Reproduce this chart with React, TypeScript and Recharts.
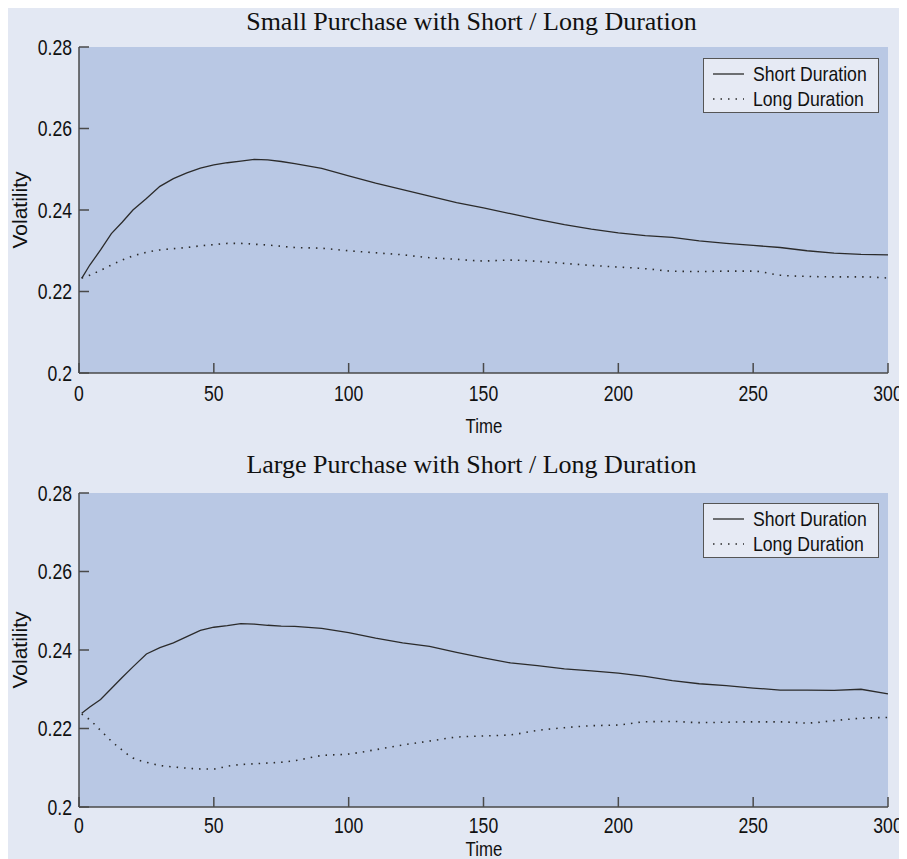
import { LineChart, Line, XAxis, YAxis, CartesianGrid } from "recharts";

const time = [
  1, 4, 8, 12, 16, 20, 25, 30, 35, 40, 45, 50, 55, 60, 65, 70, 75, 80, 90, 100,
  110, 120, 130, 140, 150, 160, 170, 180, 190, 200, 210, 220, 230, 240, 250, 260, 270, 280, 290, 300,
];
const smallShort = [
  0.2232, 0.2265, 0.2302, 0.2342, 0.237, 0.24, 0.2428, 0.2458, 0.2477, 0.2491, 0.2503, 0.2511, 0.2516, 0.252, 0.2524, 0.2523, 0.2519, 0.2514, 0.2502, 0.2484,
  0.2466, 0.245, 0.2434, 0.2418, 0.2405, 0.2391, 0.2377, 0.2364, 0.2353, 0.2344, 0.2337, 0.2333, 0.2324, 0.2318, 0.2313, 0.2308, 0.23, 0.2294, 0.2291, 0.229,
];
const smallLong = [
  0.2233, 0.224, 0.2252, 0.2265, 0.2277, 0.2287, 0.2296, 0.2302, 0.2305, 0.2308, 0.2312, 0.2315, 0.2318, 0.2318, 0.2316, 0.2314, 0.2311, 0.2308, 0.2306, 0.23,
  0.2295, 0.229, 0.2283, 0.2279, 0.2275, 0.2277, 0.2274, 0.2269, 0.2264, 0.226, 0.2256, 0.225, 0.2249, 0.225, 0.225, 0.224, 0.2237, 0.2236, 0.2236, 0.2233,
];
const largeShort = [
  0.2239, 0.2255, 0.2274, 0.2302, 0.233, 0.2357, 0.239, 0.2406, 0.2418, 0.2434, 0.245, 0.2458, 0.2462, 0.2467, 0.2466, 0.2463, 0.2461, 0.246, 0.2455, 0.2444,
  0.243, 0.2418, 0.2409, 0.2394, 0.238, 0.2367, 0.236, 0.2352, 0.2347, 0.2341, 0.2333, 0.2322, 0.2314, 0.2309, 0.2303, 0.2298, 0.2298, 0.2297, 0.23, 0.2288,
];
const largeLong = [
  0.2237, 0.2222, 0.2195, 0.2168, 0.2145, 0.2125, 0.2114, 0.2106, 0.2102, 0.2099, 0.2097, 0.2097, 0.2104, 0.2108, 0.211, 0.2112, 0.2114, 0.2118, 0.2131, 0.2135,
  0.2146, 0.2158, 0.2168, 0.2178, 0.2181, 0.2184, 0.2195, 0.2202, 0.2207, 0.2209, 0.2217, 0.2218, 0.2215, 0.2216, 0.2217, 0.2217, 0.2214, 0.222, 0.2226, 0.2228,
];

const xTicks = [0, 50, 100, 150, 200, 250, 300];
const yTicks = [0.2, 0.22, 0.24, 0.26, 0.28];
const seriesNames = ["Short Duration", "Long Duration"];
const titles = [
  "Small Purchase with Short / Long Duration",
  "Large Purchase with Short / Long Duration",
];

const SANS = "'Liberation Sans', Arial, sans-serif";
const SERIF = "'Liberation Serif', 'Times New Roman', serif";
const AXIS = "#4a4a4a";
const INK = "#2b2b2b";
const DOTS = "1.5 6";
const SQUEEZE = 0.8; // the source figure's sans text is horizontally narrow

function buildRows(short: number[], long: number[]) {
  return time.map((t, i) => ({ t, short: short[i], long: long[i] }));
}

function XTick(props: any) {
  const { x, y, payload } = props;
  return (
    <text
      transform={`translate(${x},${y}) scale(${SQUEEZE},1)`}
      textAnchor="middle"
      dy="0.71em"
      fontSize={22}
      fill="#111"
      fontFamily={SANS}
    >
      {payload.value}
    </text>
  );
}

function YTick(props: any) {
  const { x, y, payload } = props;
  return (
    <text
      transform={`translate(${x},${y}) scale(${SQUEEZE},1)`}
      textAnchor="end"
      dy="0.36em"
      fontSize={22}
      fill="#111"
      fontFamily={SANS}
    >
      {payload.value}
    </text>
  );
}

function LegendBox({ left, top }: { left: number; top: number }) {
  return (
    <div
      style={{
        position: "absolute",
        left,
        top,
        width: 176,
        height: 55,
        border: "1px solid #555",
        background: "#e6eaf4",
        fontFamily: SANS,
        fontSize: 21,
        color: "#111",
        boxSizing: "border-box",
        paddingTop: 2,
        zIndex: 2,
      }}
    >
      {seriesNames.map((name, i) => (
        <div key={name} style={{ position: "relative", height: 25 }}>
          <svg width={50} height={10} style={{ position: "absolute", left: 0, top: 8 }}>
            <line
              x1={9}
              x2={40}
              y1={5}
              y2={5}
              stroke={INK}
              strokeWidth={i === 0 ? 1.3 : 1.5}
              strokeDasharray={i === 0 ? undefined : DOTS}
            />
          </svg>
          <span
            style={{
              position: "absolute",
              left: 49,
              top: 0,
              lineHeight: "25px",
              whiteSpace: "nowrap",
              transform: `scaleX(${SQUEEZE + 0.04})`,
              transformOrigin: "left center",
            }}
          >
            {name}
          </span>
        </div>
      ))}
    </div>
  );
}

interface PanelProps {
  title: string;
  rows: { t: number; short: number; long: number }[];
  height: number;
  top: number;
  bottom: number;
  tickGap: number;
  timeTop: number;
  legendTop: number;
  titleTop: number;
}

function Panel({ title, rows, height, top, bottom, tickGap, timeTop, legendTop, titleTop }: PanelProps) {
  return (
    <div style={{ position: "relative", width: 891, height }}>
      <div
        style={{
          position: "absolute",
          left: 0,
          top: titleTop,
          width: 927,
          textAlign: "center",
          fontFamily: SERIF,
          fontSize: 26,
          lineHeight: "30px",
          color: "#111",
          zIndex: 2,
        }}
      >
        {title}
      </div>
      <LegendBox left={695} top={legendTop} />
      <LineChart width={899} height={height} data={rows} margin={{ top, right: 19, left: 0, bottom: 0 }}>
        <CartesianGrid horizontal={false} vertical={false} fill="#b9c8e4" />
        <XAxis
          dataKey="t"
          type="number"
          domain={[0, 300]}
          ticks={xTicks}
          height={bottom}
          tickSize={-10}
          tickMargin={tickGap}
          stroke={AXIS}
          strokeWidth={1.5}
          tick={<XTick />}
        />
        <XAxis
          xAxisId="top"
          orientation="top"
          type="number"
          domain={[0, 300]}
          ticks={xTicks}
          height={0}
          tickSize={-10}
          tick={false}
          stroke={AXIS}
          strokeWidth={1.5}
        />
        <YAxis
          type="number"
          domain={[0.2, 0.28]}
          ticks={yTicks}
          width={71}
          tickSize={-10}
          tickMargin={17}
          stroke={AXIS}
          strokeWidth={1.5}
          tick={<YTick />}
          label={{
            value: "Volatility",
            angle: -90,
            position: "insideLeft",
            offset: 12,
            fontSize: 21,
            fill: "#111",
            fontFamily: SANS,
            style: { textAnchor: "middle" },
          }}
        />
        <YAxis
          yAxisId="right"
          orientation="right"
          type="number"
          domain={[0.2, 0.28]}
          ticks={yTicks}
          width={0}
          tickSize={-10}
          tick={false}
          stroke={AXIS}
          strokeWidth={1.5}
        />
        <Line
          dataKey="short"
          name={seriesNames[0]}
          type="linear"
          stroke={INK}
          strokeWidth={1.3}
          dot={false}
          isAnimationActive={false}
        />
        <Line
          dataKey="long"
          name={seriesNames[1]}
          type="monotone"
          stroke={INK}
          strokeWidth={1.6}
          strokeDasharray={DOTS}
          dot={false}
          isAnimationActive={false}
        />
      </LineChart>
      <div
        style={{
          position: "absolute",
          left: 71,
          width: 809,
          top: timeTop,
          textAlign: "center",
          fontFamily: SANS,
          fontSize: 21,
          lineHeight: "18px",
          height: 18,
          color: "#111",
        }}
      >
        <span style={{ display: "inline-block", transform: `scaleX(${SQUEEZE})` }}>Time</span>
      </div>
    </div>
  );
}

export default function App() {
  return (
    <div style={{ width: 891, height: 851, background: "#e3e8f3" }}>
      <Panel
        title={titles[0]}
        rows={buildRows(smallShort, smallLong)}
        height={432}
        top={39}
        bottom={67}
        tickGap={22}
        timeTop={409}
        legendTop={50}
        titleTop={-1}
      />
      <Panel
        title={titles[1]}
        rows={buildRows(largeShort, largeLong)}
        height={419}
        top={53}
        bottom={52}
        tickGap={20}
        timeTop={400}
        legendTop={63}
        titleTop={10}
      />
    </div>
  );
}
